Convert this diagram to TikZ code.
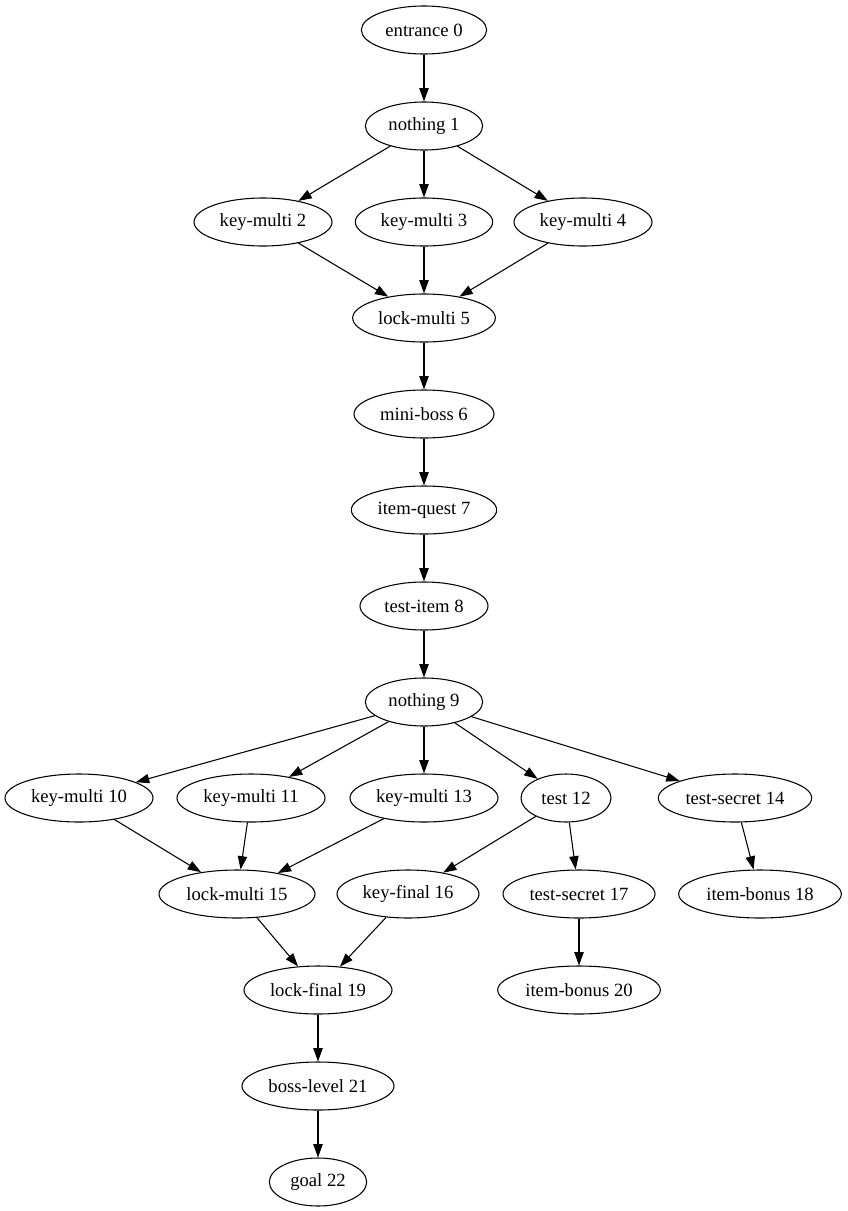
\documentclass[tikz,border=0pt]{standalone}
\usepackage{fontspec}
\setmainfont{Liberation Serif}
\usetikzlibrary{shapes.geometric,arrows.meta}
\tikzset{
  gv/.style={draw, ellipse, line width=0.8pt, inner sep=0pt, minimum height=36pt,
    font=\fontsize{14}{16}\selectfont},
  edge/.style={line width=0.8pt, -{Triangle[length=10pt,width=7pt]}}
}
\begin{document}
\begin{tikzpicture}[x=0.75pt,y=-0.75pt]
\useasboundingbox (0,0) rectangle (847,1211);
\node[gv,minimum width=94pt] (n0) at (424,30) {entrance 0};
\node[gv,minimum width=88pt] (n1) at (424,126) {nothing 1};
\node[gv,minimum width=103.5pt] (n2) at (263,222) {key-multi 2};
\node[gv,minimum width=103pt] (n3) at (424,222) {key-multi 3};
\node[gv,minimum width=103.5pt] (n4) at (583,222) {key-multi 4};
\node[gv,minimum width=107pt] (n5) at (424,318) {lock-multi 5};
\node[gv,minimum width=105pt] (n6) at (424,414) {mini-boss 6};
\node[gv,minimum width=109pt] (n7) at (424,510) {item-quest 7};
\node[gv,minimum width=96pt] (n8) at (424,606) {test-item 8};
\node[gv,minimum width=88pt] (n9) at (424,702) {nothing 9};
\node[gv,minimum width=111pt] (n10) at (79,798) {key-multi 10};
\node[gv,minimum width=111pt] (n11) at (251,798) {key-multi 11};
\node[gv,minimum width=111pt] (n13) at (424,798) {key-multi 13};
\node[gv,minimum width=67.5pt] (n12) at (566,798) {test 12};
\node[gv,minimum width=115pt] (n14) at (735,798) {test-secret 14};
\node[gv,minimum width=117pt] (n15) at (237,894) {lock-multi 15};
\node[gv,minimum width=106.5pt] (n16) at (408,894) {key-final 16};
\node[gv,minimum width=114pt] (n17) at (579,894) {test-secret 17};
\node[gv,minimum width=122pt] (n18) at (760,894) {item-bonus 18};
\node[gv,minimum width=111pt] (n19) at (318,990) {lock-final 19};
\node[gv,minimum width=122pt] (n20) at (579,990) {item-bonus 20};
\node[gv,minimum width=114pt] (n21) at (318,1086) {boss-level 21};
\node[gv,minimum width=73pt] (n22) at (318,1182) {goal 22};
\draw[edge] (n0) -- (n1);
\draw[edge] (n1) -- (n2);
\draw[edge] (n1) -- (n3);
\draw[edge] (n1) -- (n4);
\draw[edge] (n2) -- (n5);
\draw[edge] (n3) -- (n5);
\draw[edge] (n4) -- (n5);
\draw[edge] (n5) -- (n6);
\draw[edge] (n6) -- (n7);
\draw[edge] (n7) -- (n8);
\draw[edge] (n8) -- (n9);
\draw[edge] (n9) -- (n10);
\draw[edge] (n9) -- (n11);
\draw[edge] (n9) -- (n13);
\draw[edge] (n9) -- (n12);
\draw[edge] (n9) -- (n14);
\draw[edge] (n10) -- (n15);
\draw[edge] (n11) -- (n15);
\draw[edge] (n13) -- (n15);
\draw[edge] (n12) -- (n16);
\draw[edge] (n12) -- (n17);
\draw[edge] (n14) -- (n18);
\draw[edge] (n15) -- (n19);
\draw[edge] (n16) -- (n19);
\draw[edge] (n17) -- (n20);
\draw[edge] (n19) -- (n21);
\draw[edge] (n21) -- (n22);
\end{tikzpicture}
\end{document}
